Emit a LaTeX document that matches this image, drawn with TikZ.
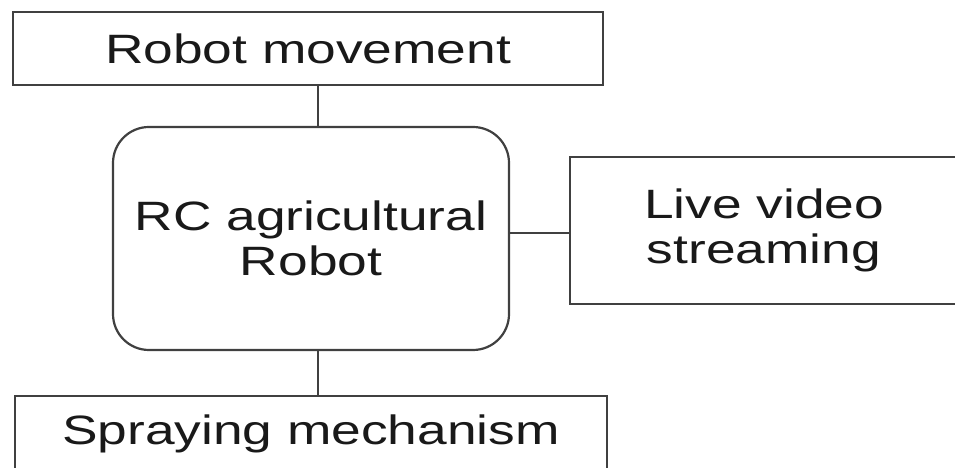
\documentclass[tikz,border=0pt]{standalone}
\usepackage{fontspec}
\setmainfont{Liberation Sans}[FakeStretch=1.3]
\usepackage{tikz}

\begin{document}
\begin{tikzpicture}[x=1pt,y=1pt,
    box/.style={draw=black!75, line width=2.2pt, inner sep=0pt, align=center,
        font=\fontsize{41}{45}\selectfont, text=black!90},
    link/.style={draw=black!75, line width=2.2pt}]
    \path[use as bounding box, clip] (0,0) rectangle (955,468);
    \node[box, minimum width=590, minimum height=73] (move) at (308,419.5) {Robot movement};
    \node[box, rounded corners=36pt, minimum width=396, minimum height=223] (robot) at (311,229.5) {RC agricultural\\Robot};
    \node[box, minimum width=388, minimum height=147] (live) at (764,237.5) {Live video\\streaming};
    \node[box, minimum width=592, minimum height=76] (spray) at (311,34) {Spraying mechanism};
    \draw[link] ([xshift=10pt]move.south) -- ([xshift=7pt]robot.north);
    \draw[link] ([xshift=7pt]robot.south) -- ([xshift=7pt]spray.north);
    \draw[link] ([yshift=-2.5pt]live.west) -- ([yshift=-2.5pt]live.west -| robot.east);
\end{tikzpicture}
\end{document}
